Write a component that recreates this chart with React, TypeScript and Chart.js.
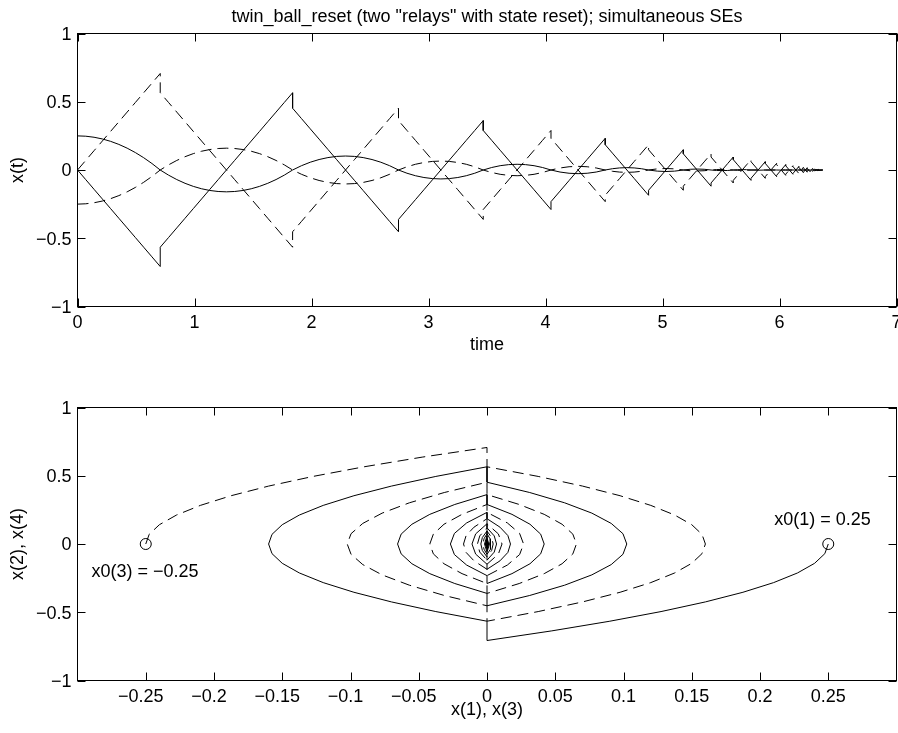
import React, { useEffect, useRef } from "react";
import { Chart, registerables } from "chart.js";

Chart.register(...registerables);

// ---------------- data ----------------
const timeS = [
  0, 0.0707, 0.1414, 0.2121, 0.2828, 0.3536, 0.4243, 0.495, 0.5657, 0.6364, 0.7071,
  0.7071, 0.7778, 0.8485, 0.9192, 0.9899, 1.0607, 1.1314, 1.2021, 1.2728, 1.3435, 1.4142, 1.4849, 1.5556, 1.6263, 1.6971, 1.7678, 1.8385,
  1.8385, 1.9139, 1.9893, 2.0648, 2.1402, 2.2156, 2.291, 2.3664, 2.4418, 2.5173, 2.5927, 2.6681, 2.7436,
  2.7436, 2.816, 2.8884, 2.9608, 3.0332, 3.1056, 3.1781, 3.2505, 3.3229, 3.3953, 3.4677,
  3.4677, 3.5401, 3.6125, 3.6849, 3.7573, 3.8297, 3.9022, 3.9746, 4.047,
  4.047, 4.1242, 4.2015, 4.2787, 4.3559, 4.4332, 4.5104,
  4.5104, 4.5722, 4.634, 4.6957, 4.7575, 4.8193, 4.8811,
  4.8811, 4.9553, 5.0294, 5.1036, 5.1777,
  5.1777, 5.237, 5.2964, 5.3557, 5.415,
  5.415, 5.4625, 5.5099, 5.5574, 5.6048,
  5.6048, 5.6428, 5.6807, 5.7187, 5.7566,
  5.7566, 5.8174, 5.8781,
  5.8781, 5.9267, 5.9753,
  5.9753, 6.0142, 6.053,
  6.053, 6.0841, 6.1152,
  6.1152, 6.1401, 6.165,
  6.165, 6.1849, 6.2048,
  6.2048, 6.2208, 6.2367,
  6.2367, 6.2495, 6.2622,
  6.2622, 6.2724, 6.2826,
  6.2826, 6.2908, 6.2989,
  6.2989, 6.3054, 6.3119,
  6.3119, 6.3171, 6.3223,
  6.3223, 6.3265, 6.3306,
  6.3306, 6.334, 6.3373,
  6.37,
];

// x(1): position of ball 1
const pos1 = [
  0.25, 0.2475, 0.24, 0.2275, 0.21, 0.1875, 0.16, 0.1275, 0.09, 0.0475, 0,
  0, -0.0375, -0.07, -0.0975, -0.12, -0.1375, -0.15, -0.1575, -0.16, -0.1575, -0.15, -0.1375, -0.12, -0.0975, -0.07, -0.0375, 0,
  0, 0.0313, 0.0569, 0.0768, 0.091, 0.0996, 0.1024, 0.0996, 0.091, 0.0768, 0.0569, 0.0313, 0,
  0, -0.0236, -0.0419, -0.055, -0.0629, -0.0655, -0.0629, -0.055, -0.0419, -0.0236, 0,
  0, 0.0183, 0.0315, 0.0393, 0.0419, 0.0393, 0.0315, 0.0183, 0,
  0, -0.0149, -0.0239, -0.0268, -0.0239, -0.0149, 0,
  0, 0.0095, 0.0153, 0.0172, 0.0153, 0.0095, 0,
  0, -0.0083, -0.011, -0.0083, 0,
  0, 0.0053, 0.007, 0.0053, 0,
  0, -0.0034, -0.0045, -0.0034, 0,
  0, 0.0022, 0.0029, 0.0022, 0,
  0, -0.0018, 0,
  0, 0.0012, 0,
  0, -0.0008, 0,
  0, 0.0005, 0,
  0, -0.0003, 0,
  0, 0.0002, 0,
  0, -0.0001, 0,
  0, 0.0001, 0,
  0, -0.00005, 0,
  0, 0.00003, 0,
  0, -0.00002, 0,
  0, 0.00001, 0,
  0, -0.00001, 0,
  0, 0.00001, 0,
  0,
];

// x(2): velocity of ball 1
const vel2 = [
  0, -0.0707, -0.1414, -0.2121, -0.2828, -0.3536, -0.4243, -0.495, -0.5657, -0.6364, -0.7071,
  -0.5657, -0.495, -0.4243, -0.3536, -0.2828, -0.2121, -0.1414, -0.0707, 0, 0.0707, 0.1414, 0.2121, 0.2828, 0.3536, 0.4243, 0.495, 0.5657,
  0.4525, 0.3771, 0.3017, 0.2263, 0.1508, 0.0754, 0, -0.0754, -0.1508, -0.2263, -0.3017, -0.3771, -0.4525,
  -0.362, -0.2896, -0.2172, -0.1448, -0.0724, 0, 0.0724, 0.1448, 0.2172, 0.2896, 0.362,
  0.2896, 0.2172, 0.1448, 0.0724, 0, -0.0724, -0.1448, -0.2172, -0.2896,
  -0.2317, -0.1545, -0.0772, 0, 0.0772, 0.1545, 0.2317,
  0.1853, 0.1235, 0.0618, 0, -0.0618, -0.1235, -0.1853,
  -0.1483, -0.0741, 0, 0.0741, 0.1483,
  0.1186, 0.0593, 0, -0.0593, -0.1186,
  -0.0949, -0.0475, 0, 0.0475, 0.0949,
  0.0759, 0.038, 0, -0.038, -0.0759,
  -0.0607, 0, 0.0607,
  0.0486, 0, -0.0486,
  -0.0389, 0, 0.0389,
  0.0311, 0, -0.0311,
  -0.0249, 0, 0.0249,
  0.0199, 0, -0.0199,
  -0.0159, 0, 0.0159,
  0.0127, 0, -0.0127,
  -0.0102, 0, 0.0102,
  0.0082, 0, -0.0082,
  -0.0065, 0, 0.0065,
  0.0052, 0, -0.0052,
  -0.0042, 0, 0.0042,
  0.0034, 0, -0.0034,
  0,
];

// x(3): position of ball 2
const pos3 = [
  -0.25, -0.2475, -0.24, -0.2275, -0.21, -0.1875, -0.16, -0.1275, -0.09, -0.0475, 0,
  0, 0.0375, 0.07, 0.0975, 0.12, 0.1375, 0.15, 0.1575, 0.16, 0.1575, 0.15, 0.1375, 0.12, 0.0975, 0.07, 0.0375, 0,
  0, -0.0313, -0.0569, -0.0768, -0.091, -0.0996, -0.1024, -0.0996, -0.091, -0.0768, -0.0569, -0.0313, 0,
  0, 0.0236, 0.0419, 0.055, 0.0629, 0.0655, 0.0629, 0.055, 0.0419, 0.0236, 0,
  0, -0.0183, -0.0315, -0.0393, -0.0419, -0.0393, -0.0315, -0.0183, 0,
  0, 0.0149, 0.0239, 0.0268, 0.0239, 0.0149, 0,
  0, -0.0095, -0.0153, -0.0172, -0.0153, -0.0095, 0,
  0, 0.0083, 0.011, 0.0083, 0,
  0, -0.0053, -0.007, -0.0053, 0,
  0, 0.0034, 0.0045, 0.0034, 0,
  0, -0.0022, -0.0029, -0.0022, 0,
  0, 0.0018, 0,
  0, -0.0012, 0,
  0, 0.0008, 0,
  0, -0.0005, 0,
  0, 0.0003, 0,
  0, -0.0002, 0,
  0, 0.0001, 0,
  0, -0.0001, 0,
  0, 0.00005, 0,
  0, -0.00003, 0,
  0, 0.00002, 0,
  0, -0.00001, 0,
  0, 0.00001, 0,
  0, -0.00001, 0,
  0,
];

// x(4): velocity of ball 2
const vel4 = [
  0, 0.0707, 0.1414, 0.2121, 0.2828, 0.3536, 0.4243, 0.495, 0.5657, 0.6364, 0.7071,
  0.5657, 0.495, 0.4243, 0.3536, 0.2828, 0.2121, 0.1414, 0.0707, 0, -0.0707, -0.1414, -0.2121, -0.2828, -0.3536, -0.4243, -0.495, -0.5657,
  -0.4525, -0.3771, -0.3017, -0.2263, -0.1508, -0.0754, 0, 0.0754, 0.1508, 0.2263, 0.3017, 0.3771, 0.4525,
  0.362, 0.2896, 0.2172, 0.1448, 0.0724, 0, -0.0724, -0.1448, -0.2172, -0.2896, -0.362,
  -0.2896, -0.2172, -0.1448, -0.0724, 0, 0.0724, 0.1448, 0.2172, 0.2896,
  0.2317, 0.1545, 0.0772, 0, -0.0772, -0.1545, -0.2317,
  -0.1853, -0.1235, -0.0618, 0, 0.0618, 0.1235, 0.1853,
  0.1483, 0.0741, 0, -0.0741, -0.1483,
  -0.1186, -0.0593, 0, 0.0593, 0.1186,
  0.0949, 0.0475, 0, -0.0475, -0.0949,
  -0.0759, -0.038, 0, 0.038, 0.0759,
  0.0607, 0, -0.0607,
  -0.0486, 0, 0.0486,
  0.0389, 0, -0.0389,
  -0.0311, 0, 0.0311,
  0.0249, 0, -0.0249,
  -0.0199, 0, 0.0199,
  0.0159, 0, -0.0159,
  -0.0127, 0, 0.0127,
  0.0102, 0, -0.0102,
  -0.0082, 0, 0.0082,
  0.0065, 0, -0.0065,
  -0.0052, 0, 0.0052,
  0.0042, 0, -0.0042,
  -0.0034, 0, 0.0034,
  0,
];

const timeTicks = [0, 1, 2, 3, 4, 5, 6, 7];
const stateTicks = [-1, -0.5, 0, 0.5, 1];
const phaseTicks = [-0.25, -0.2, -0.15, -0.1, -0.05, 0, 0.05, 0.1, 0.15, 0.2, 0.25];

const initPos = [0.25, -0.25];
const initVel = [0, 0];
const initLabels = ["x0(1) = 0.25", "x0(3) = \u22120.25"];

const titleText = 'twin_ball_reset (two "relays" with state reset); simultaneous SEs';

// ---------------- layout / style ----------------
const FONT = '"Liberation Sans", Arial, Helvetica, sans-serif';
const FS = 18;
const W = 898;
const H1 = 366;
const H2 = 367;
const DASH = [11, 6];
const labelAnchors = [
  { x: 0.2104, y: 0.141 },
  { x: -0.2898, y: -0.24 },
];

const fmt = (v: number) => {
  const r = Math.round(v * 1000) / 1000;
  const s = String(Math.abs(r));
  return r < 0 ? "\u2212" + s : s;
};

const boxPlugin = {
  id: "matlabBox",
  afterDatasetsDraw(chart: any) {
    const { ctx, chartArea: a, scales } = chart;
    ctx.save();
    ctx.strokeStyle = "#000";
    ctx.lineWidth = 1;
    ctx.setLineDash([]);
    ctx.strokeRect(a.left, a.top, a.right - a.left, a.bottom - a.top);
    const L = 8;
    ctx.beginPath();
    for (const t of scales.x.ticks) {
      const px = Math.round(scales.x.getPixelForValue(t.value)) + 0.5;
      ctx.moveTo(px, a.bottom);
      ctx.lineTo(px, a.bottom - L);
      ctx.moveTo(px, a.top);
      ctx.lineTo(px, a.top + L);
    }
    for (const t of scales.y.ticks) {
      const py = Math.round(scales.y.getPixelForValue(t.value)) + 0.5;
      ctx.moveTo(a.left, py);
      ctx.lineTo(a.left + L, py);
      ctx.moveTo(a.right, py);
      ctx.lineTo(a.right - L, py);
    }
    ctx.stroke();
    ctx.restore();
  },
};

const line = (pts: { x: number; y: number }[], dashed: boolean) => ({
  data: pts,
  showLine: true,
  borderColor: "#000",
  backgroundColor: "#000",
  borderWidth: 1,
  borderDash: dashed ? DASH : [],
  pointRadius: 0,
  tension: 0,
});

const axisFont = { family: FONT, size: FS };

export default function App() {
  const topRef = useRef<HTMLCanvasElement>(null);
  const botRef = useRef<HTMLCanvasElement>(null);

  useEffect(() => {
    const titlePlugin = {
      id: "topTitle",
      afterDraw(chart: any) {
        const { ctx, chartArea: a } = chart;
        ctx.save();
        ctx.fillStyle = "#000";
        ctx.font = `${FS}px ${FONT}`;
        ctx.textAlign = "center";
        ctx.textBaseline = "alphabetic";
        ctx.fillText(titleText, (a.left + a.right) / 2, 21.5);
        ctx.restore();
      },
    };
    const labelPlugin = {
      id: "initLabels",
      afterDraw(chart: any) {
        const { ctx, scales } = chart;
        ctx.save();
        ctx.fillStyle = "#000";
        ctx.font = `${FS}px ${FONT}`;
        ctx.textAlign = "left";
        ctx.textBaseline = "alphabetic";
        initLabels.forEach((txt, i) => {
          ctx.fillText(
            txt,
            scales.x.getPixelForValue(labelAnchors[i].x),
            scales.y.getPixelForValue(labelAnchors[i].y)
          );
        });
        ctx.restore();
      },
    };

    const common = {
      responsive: false,
      animation: false as const,
      devicePixelRatio: 1,
      events: [] as any[],
      plugins: { legend: { display: false }, tooltip: { enabled: false } },
    };

    const yScale = (titleText: string) => ({
      type: "linear",
      min: -1,
      max: 1,
      grid: { display: false, drawTicks: false },
      border: { display: false },
      afterBuildTicks: (s: any) => {
        s.ticks = stateTicks.map((v) => ({ value: v }));
      },
      afterFit: (s: any) => {
        s.width = 77.5;
        s.paddingTop = 0;
        s.paddingBottom = 0;
      },
      ticks: {
        font: axisFont,
        color: "#000",
        padding: 6,
        labelOffset: 1.5,
        autoSkip: false,
        callback: (v: any) => fmt(Number(v)),
      },
      title: {
        display: true,
        text: titleText,
        font: axisFont,
        color: "#000",
        padding: { top: 7, bottom: 0 },
      },
    });

    const xFit = (h: number) => (s: any) => {
      s.height = h;
      s.paddingLeft = 0;
      s.paddingRight = 0;
    };

    const c1 = new Chart(topRef.current as HTMLCanvasElement, {
      type: "scatter",
      data: {
        datasets: [
          line(timeS.map((t, i) => ({ x: t, y: pos1[i] })), false),
          line(timeS.map((t, i) => ({ x: t, y: vel2[i] })), false),
          line(timeS.map((t, i) => ({ x: t, y: pos3[i] })), true),
          line(timeS.map((t, i) => ({ x: t, y: vel4[i] })), true),
        ] as any,
      },
      options: {
        ...common,
        layout: { autoPadding: false, padding: { top: 33.5, right: 1.5, left: 0, bottom: 0 } },
        scales: {
          x: {
            type: "linear",
            min: 0,
            max: 7,
            grid: { display: false, drawTicks: false },
            border: { display: false },
            afterBuildTicks: (s: any) => {
              s.ticks = timeTicks.map((v) => ({ value: v }));
            },
            afterFit: xFit(H1 - 306.5),
            ticks: {
              font: axisFont,
              color: "#000",
              padding: 6,
              maxRotation: 0,
              autoSkip: false,
              callback: (v: any) => fmt(Number(v)),
            },
            title: {
              display: true,
              text: "time",
              font: axisFont,
              color: "#000",
              padding: { top: 0, bottom: 9.7 },
            },
          },
          y: yScale("x(t)"),
        } as any,
      },
      plugins: [boxPlugin, titlePlugin],
    } as any);

    const c2 = new Chart(botRef.current as HTMLCanvasElement, {
      type: "scatter",
      data: {
        datasets: [
          line(pos1.map((p, i) => ({ x: p, y: vel2[i] })), false),
          line(pos3.map((p, i) => ({ x: p, y: vel4[i] })), true),
          {
            data: initPos.map((p, i) => ({ x: p, y: initVel[i] })),
            showLine: false,
            pointStyle: "circle",
            pointRadius: 5.5,
            borderColor: "#000",
            backgroundColor: "rgba(0,0,0,0)",
            borderWidth: 1,
          },
        ] as any,
      },
      options: {
        ...common,
        layout: { autoPadding: false, padding: { top: 41.5, right: 1.5, left: 0, bottom: 0 } },
        scales: {
          x: {
            type: "linear",
            min: -0.3,
            max: 0.3,
            grid: { display: false, drawTicks: false },
            border: { display: false },
            afterBuildTicks: (s: any) => {
              s.ticks = phaseTicks.map((v) => ({ value: v }));
            },
            afterFit: xFit(H2 - 314.5),
            ticks: {
              font: axisFont,
              color: "#000",
              padding: 6,
              maxRotation: 0,
              autoSkip: false,
              callback: (v: any) => {
                const n = Number(v);
                return n < 0 ? fmt(n) + "  " : fmt(n);
              },
            },
            title: {
              display: true,
              text: "x(1), x(3)",
              font: axisFont,
              color: "#000",
              padding: { top: 0, bottom: 11.9 },
            },
          },
          y: yScale("x(2), x(4)"),
        } as any,
      },
      plugins: [boxPlugin, labelPlugin],
    } as any);

    return () => {
      c1.destroy();
      c2.destroy();
    };
  }, []);

  return (
    <div
      style={{
        position: "absolute",
        left: 0,
        top: 0,
        width: W,
        height: H1 + H2,
        background: "#fff",
      }}
    >
      <canvas
        ref={topRef}
        width={W}
        height={H1}
        style={{ position: "absolute", left: 0, top: 0, width: W, height: H1, display: "block" }}
      />
      <canvas
        ref={botRef}
        width={W}
        height={H2}
        style={{ position: "absolute", left: 0, top: H1, width: W, height: H2, display: "block" }}
      />
    </div>
  );
}
